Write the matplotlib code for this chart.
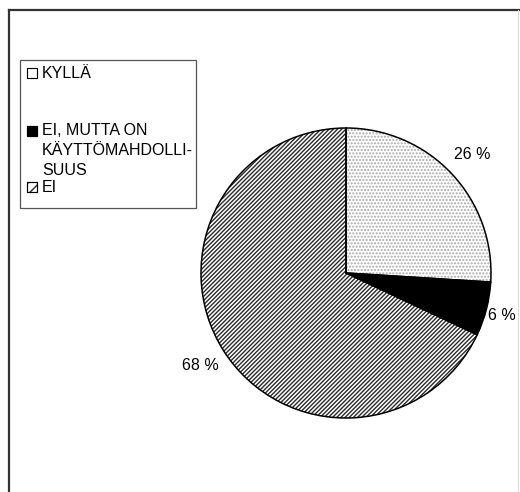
import matplotlib
matplotlib.use("Agg")
import matplotlib.pyplot as plt
from matplotlib.patches import Rectangle
from matplotlib.lines import Line2D

plt.rcParams["font.family"] = ["Liberation Sans", "DejaVu Sans"]
plt.rcParams["hatch.linewidth"] = 1.0

# data
labels = ["KYLLÄ", "EI, MUTTA ON\nKÄYTTÖMAHDOLLI-\nSUUS", "EI"]
values = [26, 6, 68]
hatches = [".....", "", "////////"]
hatch_colors = ["#a8a8a8", "black", "#2a2a2a"]
face_colors = ["white", "black", "white"]

W, H = 520, 492
fig = plt.figure(figsize=(W / 100, H / 100), dpi=100)

# pie axes: centre (346, 273) px, radius 145 px
cx, cy, r = 346, 273, 145
ax = fig.add_axes([(cx - r) / W, (H - cy - r) / H, 2 * r / W, 2 * r / H])

wedges, _, autotexts = ax.pie(values, startangle=90, counterclock=False,
                              colors=face_colors, autopct=lambda p: f"{p:.0f} %",
                              pctdistance=1.19,
                              wedgeprops=dict(linewidth=0),
                              textprops=dict(fontsize=11.5))
for w, h, c in zip(wedges, hatches, hatch_colors):
    w.set_hatch(h)
    w.set_edgecolor(c)
# keep "6 %" inside the picture
autotexts[1].set_x(autotexts[1].get_position()[0] - 0.08)
# outline
ax.pie(values, startangle=90, counterclock=False,
       wedgeprops=dict(fill=False, edgecolor="black", linewidth=1.1))
ax.set_xlim(-1, 1)
ax.set_ylim(-1, 1)
ax.set_aspect("equal")
ax.axis("off")

# legend drawn by hand (box 20..196 x 60..208 px)
def fx(px):
    return px / W

def fy(py):
    return (H - py) / H

fig.patches.append(Rectangle((fx(20), fy(208)), fx(196) - fx(20), fy(60) - fy(208),
                             transform=fig.transFigure, fill=False,
                             edgecolor="#555555", linewidth=0.9))
entry_y = [73, 131, 187]
legend_hatch = ["", "", "///"]
for lab, yy, h, c, f in zip(labels, entry_y, legend_hatch, hatch_colors, face_colors):
    fig.patches.append(Rectangle((fx(27), fy(yy + 5)), 10 / W, 10 / H,
                                 transform=fig.transFigure, facecolor=f,
                                 edgecolor=c, hatch=h, linewidth=0.8))
    fig.patches.append(Rectangle((fx(27), fy(yy + 5)), 10 / W, 10 / H,
                                 transform=fig.transFigure, fill=False,
                                 edgecolor="black", linewidth=0.8))
    if "\n" in lab:
        fig.text(fx(42), fy(yy - 8), lab, fontsize=11.5, va="top", ha="left",
                 linespacing=1.4)
    else:
        fig.text(fx(42), fy(yy), lab, fontsize=11.5, va="center", ha="left")

# frame around the chart
fig.lines.append(Line2D([fx(9), fx(9)], [fy(10), 0], transform=fig.transFigure,
                        color="#333333", linewidth=1.6))
fig.lines.append(Line2D([fx(9), 1], [fy(10), fy(10)], transform=fig.transFigure,
                        color="#333333", linewidth=1.6))
fig.lines.append(Line2D([fx(518), fx(518)], [fy(10), 0], transform=fig.transFigure,
                        color="#dddddd", linewidth=0.8))

fig.savefig("out.png", dpi=100)
plt.close(fig)
